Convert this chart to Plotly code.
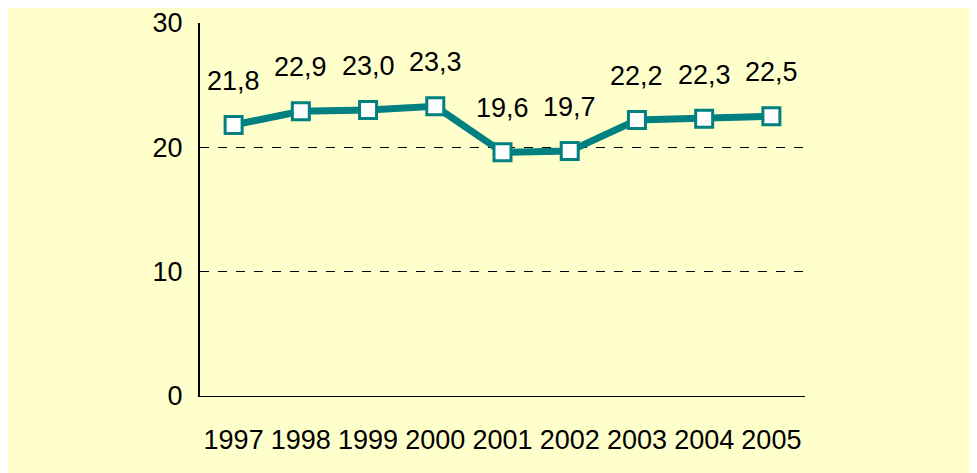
import plotly.graph_objects as go

years = ["1997", "1998", "1999", "2000", "2001", "2002", "2003", "2004", "2005"]
values = [21.8, 22.9, 23.0, 23.3, 19.6, 19.7, 22.2, 22.3, 22.5]
labels = [f"{v:.1f}".replace(".", ",") for v in values]

TEAL = "#008080"
BG = "#FFFFCC"
FONT = "Liberation Sans, Arial, sans-serif"
FS = 27

fig = go.Figure()
fig.add_trace(go.Scatter(
    x=years, y=values, mode="lines+markers",
    line=dict(color=TEAL, width=7),
    marker=dict(symbol="square", size=17, color="white", line=dict(color=TEAL, width=3)),
    hoverinfo="skip", showlegend=False, cliponaxis=False,
))

for i, (y, t) in enumerate(zip(values, labels)):
    fig.add_annotation(x=i, y=y, xref="x", yref="y", text=t, showarrow=False, yshift=44,
                       font=dict(size=FS, color="black", family=FONT))

W, H = 977, 473
L, T = 192, 15
PW, PH = 605, 373
R, B = W - L - PW, H - T - PH

fig.update_layout(
    width=W, height=H,
    margin=dict(l=L, r=R, t=T, b=B, pad=0, autoexpand=False),
    paper_bgcolor=BG, plot_bgcolor=BG,
    font=dict(family=FONT, size=FS, color="black"),
    xaxis=dict(type="category", range=[-0.5, 8.5], showgrid=False,
               showline=True, linecolor="black", linewidth=1,
               ticks="", ticklabelstandoff=20, zeroline=False, automargin=False,
               tickfont=dict(size=FS)),
    yaxis=dict(range=[0, 30], tickvals=[0, 10, 20, 30],
               showgrid=True, gridcolor="black", gridwidth=1, griddash="dash",
               showline=True, linecolor="black", linewidth=2,
               ticks="", ticklabelstandoff=10, zeroline=False, automargin=False,
               tickfont=dict(size=FS)),
)

fig.write_html("out.html",
               post_script="document.documentElement.style.overflow='hidden';"
                           "document.body.style.overflow='hidden';")
